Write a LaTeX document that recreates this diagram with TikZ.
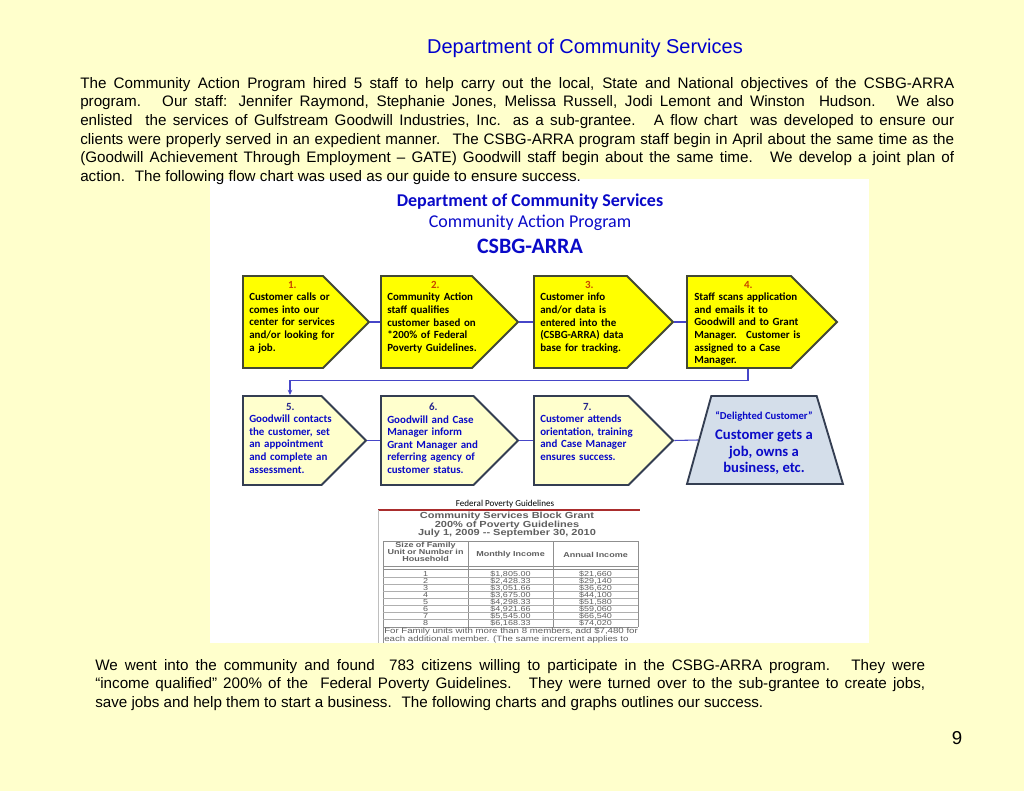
\documentclass[tikz,border=0pt]{standalone}
\usepackage{fontspec}
\setmainfont{Liberation Sans}
\newfontfamily\chartfont{Carlito}
\newfontfamily\scanfont[FakeStretch=1.25]{Liberation Sans}
\usetikzlibrary{shapes.symbols,shapes.geometric,calc,arrows.meta}

\definecolor{pageBg}{RGB}{255,255,204}
\definecolor{titleBlue}{RGB}{0,0,204}
\definecolor{chartBlue}{RGB}{10,10,200}
\definecolor{stepYellow}{RGB}{255,255,0}
\definecolor{stepPale}{RGB}{255,255,205}
\definecolor{goalFill}{RGB}{212,222,234}
\definecolor{edgeDark}{RGB}{66,72,52}
\definecolor{edgeSlate}{RGB}{52,62,82}
\definecolor{numRed}{RGB}{200,70,0}
\definecolor{numBlue}{RGB}{35,35,140}
\definecolor{linkBlue}{RGB}{70,70,200}
\definecolor{scanGrey}{RGB}{95,95,95}
\definecolor{ruleRed}{RGB}{170,45,45}

\begin{document}
\begin{tikzpicture}[
    x=0.75pt, y=-0.75pt,
    >={Stealth[length=4pt,width=3.5pt]},
    % Define chart styles locally
    stepBox/.style={signal, signal to=east, signal pointer angle=90, draw=edgeDark, line width=1.4pt, fill=stepYellow, minimum height=69pt, inner sep=0pt, anchor=west},
    stepBoxPale/.style={stepBox, draw=edgeSlate, fill=stepPale, minimum height=66.75pt},
    goalBox/.style={trapezium, trapezium left angle=77, trapezium right angle=76, trapezium stretches=true, draw=edgeSlate, line width=1.4pt, fill=goalFill, minimum width=117pt, minimum height=66pt},
    stepText/.style={font=\chartfont\bfseries\fontsize{8.2}{9.4}\selectfont, align=left, text width=100pt, inner sep=0pt, anchor=north west},
    linkLine/.style={draw=linkBlue, line width=0.8pt},
    bodyText/.style={font=\fontsize{11.4}{14}\selectfont, align=justify, inner sep=0pt, anchor=north west},
    scanText/.style={font=\scanfont\fontsize{5.4}{5.25}\selectfont, text=scanGrey, inner sep=0pt}
]

    % --- PAGE AND PANEL ---
    \fill[pageBg] (0,0) rectangle (1024,791);
    \useasboundingbox (0,0) rectangle (1024,791);
    \fill[white] (210,179) rectangle (869,643);

    % --- PAGE TEXT ---
    \node[titleBlue, font=\fontsize{15}{18}\selectfont] (pageTitle) at (585,48) {Department of Community Services};

    \node[bodyText, text width=655.5pt] (introText) at (80,77) {The Community Action Program hired 5 staff to help carry out the local, State and National objectives of the CSBG-ARRA\linebreak program.~ Our staff: Jennifer Raymond, Stephanie Jones, Melissa Russell, Jodi Lemont and Winston~ Hudson.~ We also\linebreak enlisted~ the services of Gulfstream Goodwill Industries, Inc. as a sub-grantee.~ A flow chart~ was developed to ensure our\linebreak clients were properly served in an expedient manner.~ The CSBG-ARRA program staff begin in April about the same time as the\linebreak (Goodwill Achievement Through Employment -- GATE) Goodwill staff begin about the same time.~ We develop a joint plan of\linebreak action.~ The following flow chart was used as our guide to ensure success.};

    % --- CHART TITLE ---
    \node[chartBlue, font=\chartfont\bfseries\fontsize{13.5}{16}\selectfont] (chartTitle) at (530,202) {Department of Community Services};
    \node[chartBlue, font=\chartfont\fontsize{13.5}{16}\selectfont] (chartSub) at (530,223) {Community Action Program};
    \node[chartBlue, font=\chartfont\bfseries\fontsize{16.5}{19}\selectfont] (chartGrant) at (530,246) {CSBG-ARRA};

    % --- ROW 1: INTAKE STEPS ---
    \node[stepBox, minimum width=94.5pt] (box1) at (242,322) {};
    \node[stepBox, minimum width=102.75pt] (box2) at (380,322) {};
    \node[stepBox, minimum width=104.25pt] (box3) at (533,322) {};
    \node[stepBox, minimum width=112.5pt] (box4) at (686,322) {};

    \node[stepText] (txt1) at (249,281) {\makebox[64.5pt]{\textcolor{numRed}{1.}}\\ Customer calls or\\ comes into our\\ center for services\\ and/or looking for\\ a job.};
    \node[stepText] (txt2) at (387,281) {\makebox[72pt]{\textcolor{numRed}{2.}}\\ Community Action\\ staff qualifies\\ customer based on\\ {*}200\% of Federal\\ Poverty Guidelines.};
    \node[stepText] (txt3) at (540,281) {\makebox[73.5pt]{\textcolor{numRed}{3.}}\\ Customer info\\ and/or data is\\ entered into the\\ (CSBG-ARRA) data\\ base for tracking.};
    \node[stepText] (txt4) at (694,281) {\makebox[81pt]{\textcolor{numRed}{4.}}\\ Staff scans application\\ and emails it to\\ Goodwill and to Grant\\ Manager.~ Customer is\\ assigned to a Case\\ Manager.};

    \draw[linkLine] (box1.east) -- (box2.west);
    \draw[linkLine] (box2.east) -- (box3.west);
    \draw[linkLine] (box3.east) -- (box4.west);

    % --- ROW 2: GOODWILL STEPS ---
    \node[stepBoxPale, minimum width=92.25pt] (box5) at (242,440.5) {};
    \node[stepBoxPale, minimum width=102.75pt] (box6) at (380,440.5) {};
    \node[stepBoxPale, minimum width=104.25pt] (box7) at (533,440.5) {};
    \node[goalBox] (goal) at (764,440) {};

    \node[stepText, text=chartBlue] (txt5) at (249,403) {\makebox[61.5pt]{\textcolor{numBlue}{5.}}\\ Goodwill contacts\\ the customer, set\\ an appointment\\ and complete an\\ assessment.};
    \node[stepText, text=chartBlue] (txt6) at (387,403) {\makebox[69pt]{\textcolor{numBlue}{6.}}\\ Goodwill and Case\\ Manager inform\\ Grant Manager and\\ referring agency of\\ customer status.};
    \node[stepText, text=chartBlue] (txt7) at (540,403) {\makebox[70.5pt]{\textcolor{numBlue}{7.}}\\ Customer attends\\ orientation, training\\ and Case Manager\\ ensures success.};
    \node[chartBlue, font=\chartfont\bfseries\fontsize{11}{12.4}\selectfont, align=center, inner sep=0pt] (goalTxt) at (764,443) {{\fontsize{8}{9}\selectfont “Delighted Customer”}\\[3pt] Customer gets a\\ job, owns a\\ business, etc.};

    \draw[linkLine] (box5.east) -- (box6.west);
    \draw[linkLine] (box6.east) -- (box7.west);
    \draw[linkLine] (box7.east) -- (goal.west);

    % --- LOOP BACK FROM STEP 4 TO STEP 5 ---
    \coordinate (loopOut) at ($(box4.south west)+(62,0)$);
    \coordinate (loopIn) at ($(box5.north west)+(48,0)$);
    \draw[linkLine, ->] (loopOut) -- ++(0,12) -| (loopIn);

    % --- POVERTY GUIDELINES TABLE ---
    \node[font=\chartfont\fontsize{6.8}{8}\selectfont] (tableLabel) at (505,504) {Federal Poverty Guidelines};
    \draw[ruleRed, line width=0.8pt] (378,510) -- (640,510);
    \draw[gray!50] (378,510) -- (378,643);
    \node[scanText, font=\scanfont\bfseries\fontsize{6.6}{6.4}\selectfont, align=center] (tableTitle) at (507,525) {Community Services Block Grant\\ 200\% of Poverty Guidelines\\ July 1, 2009 -- September 30, 2010};

    \draw[scanGrey!70, line width=0.5pt] (383,643) |- (638,541) -- (638,627);
    \draw[scanGrey!70, line width=0.5pt] (468,541) -- (468,627) (553,541) -- (553,627);
    \draw[scanGrey!70, line width=0.4pt] (383,566) -- (638,566) (383,569) -- (638,569);
    \draw[scanGrey!50, line width=0.3pt] (383,577.5) -- (638,577.5) (383,584.5) -- (638,584.5) (383,591.5) -- (638,591.5) (383,598.5) -- (638,598.5) (383,605.5) -- (638,605.5) (383,612.5) -- (638,612.5) (383,619.5) -- (638,619.5);
    \draw[scanGrey!70, line width=0.4pt] (383,627) -- (638,627);

    \node[scanText, font=\scanfont\bfseries\fontsize{5.4}{5.25}\selectfont, align=center] (headSize) at (425.5,552) {Size of Family\\ Unit or Number in\\ Household};
    \node[scanText, font=\scanfont\bfseries\fontsize{5.4}{5.25}\selectfont] (headMonth) at (510.5,555) {Monthly Income};
    \node[scanText, font=\scanfont\bfseries\fontsize{5.4}{5.25}\selectfont] (headYear) at (595.5,555) {Annual Income};

    \node[scanText, align=center] (colSize) at (425.5,598.5) {1\\ 2\\ 3\\ 4\\ 5\\ 6\\ 7\\ 8};
    \node[scanText, align=left] (colMonth) at (510.5,598.5) {\$1,805.00\\ \$2,428.33\\ \$3,051.66\\ \$3,675.00\\ \$4,298.33\\ \$4,921.66\\ \$5,545.00\\ \$6,168.33};
    \node[scanText, align=left] (colYear) at (595.5,598.5) {\$21,660\\ \$29,140\\ \$36,620\\ \$44,100\\ \$51,580\\ \$59,060\\ \$66,540\\ \$74,020};
    \node[scanText, font=\scanfont\fontsize{5.8}{6}\selectfont, align=left, anchor=west] (tableNote) at (384,635) {For Family units with more than 8 members, add \$7,480 for\\ each additional member. (The same increment applies to};

    % --- CLOSING TEXT ---
    \node[bodyText, text width=622.5pt] (closeText) at (95,659) {We went into the community and found~ 783 citizens willing to participate in the CSBG-ARRA program.~ They were\linebreak “income qualified” 200\% of the~ Federal Poverty Guidelines.~ They were turned over to the sub-grantee to create jobs,\linebreak save jobs and help them to start a business.~ The following charts and graphs outlines our success.};

    \node[font=\fontsize{14}{16}\selectfont] (pageNum) at (957,738) {9};

\end{tikzpicture}
\end{document}
